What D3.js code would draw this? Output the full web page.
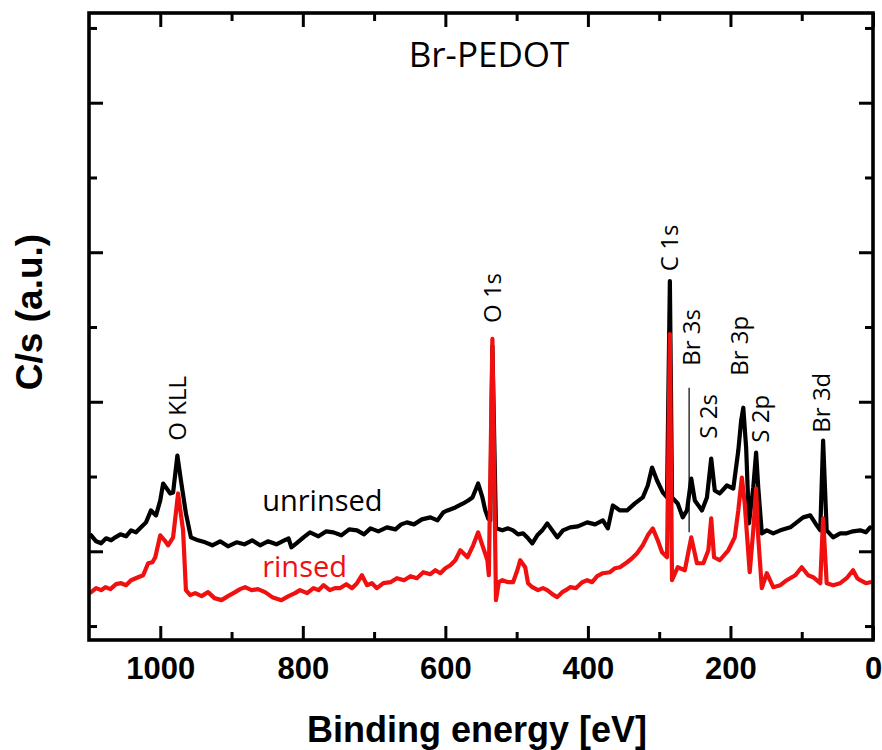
<!DOCTYPE html>
<html lang="en">
<head>
    <meta charset="UTF-8">
    <title>Br-PEDOT XPS survey</title>
    <style>
        body { margin: 0; background: #fff; }
        .spectrum { fill: none; stroke-width: 4.2px; stroke-linejoin: round; stroke-linecap: round; }
        .axis path { display: none; }
        .axis line { stroke: #000; stroke-width: 3px; }
        .axis text { font-family: "Liberation Sans", Arial, sans-serif; font-weight: bold; font-size: 31px; fill: #000; }
        .peak-label { font-family: "Open Sans", sans-serif; font-size: 24px; fill: #000; }
    </style>
    <script src="https://d3js.org/d3.v7.min.js"></script>
</head>
<body>
    <div id="chart"></div>
    <script>
        // unrinsed survey (black)
        const unrinsedEnergy = [1097, 1090, 1083, 1076, 1069, 1063, 1056, 1048, 1041, 1034,
            1027, 1020, 1013, 1006, 1000, 996, 990, 986, 982, 976,
            971, 964, 957, 947, 937, 927, 916, 905, 893, 882,
            871, 860, 849, 837, 826, 820, 816, 809, 799, 790,
            778, 767, 757, 746, 735, 724, 714, 705, 694, 682,
            670, 662, 654, 644, 633, 621, 611, 603, 597, 586,
            575, 568, 562, 554, 548, 544, 540, 537, 534, 529,
            520, 512, 505, 498, 491, 484, 478, 471, 464, 457,
            450, 443, 435, 425, 414, 401, 390, 379, 372, 365,
            355, 345, 334, 323, 316, 310, 303, 295, 289, 285,
            282, 274, 267, 261, 255, 250, 240, 233, 227, 222,
            215, 205, 196, 189, 185, 182, 178, 174, 168, 164,
            161, 156, 149, 140, 130, 116, 107, 98, 88, 79,
            74, 70, 65, 56, 46, 37, 28, 18, 10, 4];
        const unrinsedCounts = [166, 160, 158, 163, 161, 164, 167, 165, 171, 169,
            174, 179, 191, 186, 201, 218, 212, 208, 209, 246,
            221, 188, 164, 161, 159, 156, 160, 155, 159, 157,
            161, 156, 160, 157, 161, 163, 154, 158, 164, 169,
            165, 170, 169, 166, 172, 171, 167, 173, 170, 174,
            172, 177, 179, 177, 182, 184, 181, 189, 191, 194,
            198, 201, 204, 218, 204, 191, 183, 181, 356, 173,
            171, 173, 171, 167, 168, 163, 158, 166, 171, 178,
            171, 164, 171, 174, 175, 179, 177, 181, 173, 196,
            191, 191, 198, 204, 216, 234, 221, 209, 204, 421,
            204, 198, 184, 191, 223, 201, 191, 204, 243, 211,
            208, 216, 213, 251, 281, 294, 254, 178, 214, 249,
            214, 168, 171, 168, 171, 174, 179, 184, 186, 176,
            171, 261, 171, 164, 168, 168, 170, 171, 169, 174];

        // rinsed survey (red)
        const rinsedEnergy = [1097, 1090, 1083, 1077, 1070, 1062, 1055, 1048, 1041, 1031,
            1024, 1017, 1011, 1007, 1000, 994, 989, 982, 975, 968,
            964, 958, 951, 942, 933, 924, 914, 905, 895, 888,
            881, 872, 863, 853, 843, 830, 820, 811, 804, 794,
            785, 778, 771, 762, 755, 748, 739, 731, 724, 717,
            710, 703, 696, 687, 677, 668, 658, 649, 640, 631,
            621, 614, 607, 600, 593, 586, 579, 569, 561, 554,
            548, 541, 539, 534, 529, 525, 520, 512, 505, 499,
            495, 488, 484, 478, 470, 463, 457, 450, 443, 436,
            431, 425, 417, 408, 401, 394, 387, 379, 369, 362,
            355, 345, 338, 331, 323, 316, 309, 302, 296, 289,
            285, 282, 274, 264, 255, 247, 238, 231, 227, 223,
            215, 203, 194, 189, 184, 180, 173, 168, 164, 161,
            156, 149, 140, 130, 121, 109, 100, 91, 84, 74,
            70, 65, 56, 46, 37, 28, 22, 18, 10, 4];
        const rinsedCounts = [109, 113, 111, 114, 112, 117, 118, 116, 121, 124,
            126, 138, 139, 144, 166, 161, 156, 164, 208, 171,
            111, 106, 108, 105, 109, 103, 101, 105, 109, 112,
            114, 111, 112, 109, 104, 101, 105, 108, 111, 108,
            113, 111, 116, 111, 113, 113, 117, 113, 118, 126,
            116, 118, 113, 118, 119, 123, 121, 125, 123, 129,
            127, 131, 128, 133, 136, 141, 151, 144, 156, 169,
            156, 141, 126, 363, 101, 119, 121, 119, 119, 131,
            141, 134, 118, 114, 111, 113, 111, 107, 104, 109,
            111, 114, 113, 119, 121, 119, 125, 128, 129, 133,
            134, 139, 143, 148, 156, 166, 173, 161, 149, 144,
            368, 121, 134, 131, 164, 138, 138, 151, 183, 144,
            141, 151, 164, 191, 224, 198, 129, 171, 213, 164,
            113, 128, 114, 116, 121, 126, 134, 126, 124, 118,
            183, 118, 116, 118, 123, 131, 123, 121, 118, 119];

        // peak annotations: text, energy, count where the label starts
        const peakNames = ["O KLL", "O 1s", "C 1s", "Br 3s", "S 2s", "Br 3p", "S 2p", "Br 3d"];
        const peakEnergy = [976, 534, 285, 254, 231, 187, 158, 72];
        const peakLabelAt = [261, 379, 431, 336, 263, 326, 259, 269];

        const seriesNames = ["unrinsed", "rinsed"];
        const seriesColors = ["#000000", "#f01010"];

        const xMajor = [1000, 800, 600, 400, 200, 0];
        const xMinor = [900, 700, 500, 300, 100];
        const yMajor = [150, 300, 450, 600];
        const yMinor = [75, 225, 375, 525, 675];

        const margin = { top: 13, right: 9, bottom: 110, left: 89 };
        const width = 882 - margin.left - margin.right;
        const height = 750 - margin.top - margin.bottom;

        const svg = d3.select("#chart")
            .append("svg")
            .attr("width", 882)
            .attr("height", 750)
            .append("g")
            .attr("transform", `translate(${margin.left},${margin.top})`);

        const x = d3.scaleLinear().domain([1100, 0]).range([0, width]);
        const y = d3.scaleLinear().domain([61, 690]).range([height, 0]);

        const line = d3.line()
            .x(d => x(d[0]))
            .y(d => y(d[1]));

        const unrinsed = unrinsedEnergy.map((e, i) => [e, unrinsedCounts[i]]);
        const rinsed = rinsedEnergy.map((e, i) => [e, rinsedCounts[i]]);

        svg.append("path")
            .attr("class", "spectrum")
            .attr("d", line(unrinsed))
            .style("stroke", seriesColors[0]);

        svg.append("path")
            .attr("class", "spectrum")
            .attr("d", line(rinsed))
            .style("stroke", seriesColors[1]);

        // thin marker line under the Br 3s label
        svg.append("line")
            .attr("x1", x(258)).attr("x2", x(258))
            .attr("y1", y(314)).attr("y2", y(169))
            .attr("stroke", "#000")
            .attr("stroke-width", 1.2);

        // axes, ticks pointing inward
        svg.append("g").attr("class", "axis")
            .attr("transform", `translate(0,${height})`)
            .call(d3.axisBottom(x).tickValues(xMajor).tickSize(-14).tickPadding(17).tickFormat(d3.format("d")));
        svg.append("g").attr("class", "axis")
            .attr("transform", `translate(0,${height})`)
            .call(d3.axisBottom(x).tickValues(xMinor).tickSize(-8).tickFormat(""));
        svg.append("g").attr("class", "axis")
            .call(d3.axisTop(x).tickValues(xMajor).tickSize(-14).tickFormat(""));
        svg.append("g").attr("class", "axis")
            .call(d3.axisTop(x).tickValues(xMinor).tickSize(-8).tickFormat(""));
        svg.append("g").attr("class", "axis")
            .call(d3.axisLeft(y).tickValues(yMajor).tickSize(-14).tickFormat(""));
        svg.append("g").attr("class", "axis")
            .call(d3.axisLeft(y).tickValues(yMinor).tickSize(-8).tickFormat(""));
        svg.append("g").attr("class", "axis")
            .attr("transform", `translate(${width},0)`)
            .call(d3.axisRight(y).tickValues(yMajor).tickSize(-14).tickFormat(""));
        svg.append("g").attr("class", "axis")
            .attr("transform", `translate(${width},0)`)
            .call(d3.axisRight(y).tickValues(yMinor).tickSize(-8).tickFormat(""));

        // frame
        svg.append("rect")
            .attr("width", width)
            .attr("height", height)
            .attr("fill", "none")
            .attr("stroke", "#000")
            .attr("stroke-width", 3.6);

        // peak labels, rotated
        svg.selectAll(".peak-label")
            .data(peakNames)
            .enter().append("text")
            .attr("class", "peak-label")
            .attr("transform", (d, i) => `translate(${x(peakEnergy[i])},${y(peakLabelAt[i])}) rotate(-90)`)
            .attr("dy", "0.35em")
            .text(d => d);

        // series labels
        svg.selectAll(".series-label")
            .data(seriesNames)
            .enter().append("text")
            .attr("class", "series-label")
            .attr("x", x(857))
            .attr("y", (d, i) => y(i === 0 ? 190 : 124))
            .style("font-family", "'Open Sans', sans-serif")
            .style("font-size", "29px")
            .style("fill", (d, i) => seriesColors[i])
            .text(d => d);

        // title
        svg.append("text")
            .attr("x", 400)
            .attr("y", 54)
            .attr("text-anchor", "middle")
            .style("font-family", "'Open Sans', sans-serif")
            .style("font-size", "35px")
            .text("Br-PEDOT");

        // axis titles
        svg.append("text")
            .attr("x", width / 2 - 4)
            .attr("y", height + 102)
            .attr("text-anchor", "middle")
            .style("font-family", "'Liberation Sans', Arial, sans-serif")
            .style("font-weight", "bold")
            .style("font-size", "36px")
            .text("Binding energy [eV]");

        svg.append("text")
            .attr("transform", `translate(${42 - margin.left},${312 - margin.top}) rotate(-90)`)
            .attr("text-anchor", "middle")
            .style("font-family", "'Liberation Sans', Arial, sans-serif")
            .style("font-weight", "bold")
            .style("font-size", "37px")
            .text("C/s (a.u.)");
    </script>
</body>
</html>
